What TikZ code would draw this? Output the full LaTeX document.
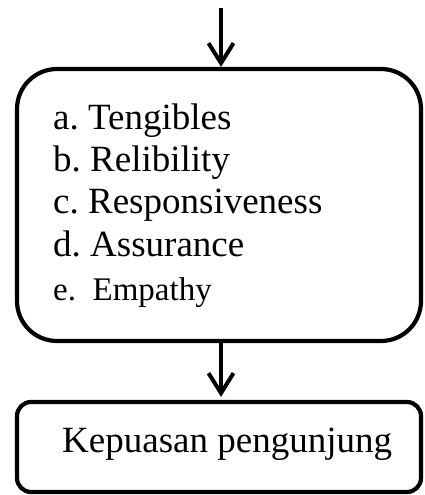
\documentclass[tikz,border=0pt]{standalone}
\usepackage{fontspec}
\setmainfont{Liberation Serif}
\usetikzlibrary{arrows.meta}
\frenchspacing
\begin{document}
\begin{tikzpicture}[x=1pt,y=-1pt,
  boxstyle/.style={draw=black,line width=4.2pt,inner sep=0pt},
  itemtext/.style={anchor=base west,inner sep=0pt,font=\fontsize{37}{42}\selectfont},
  conn/.style={line width=4pt,-{Straight Barb[length=20pt,width=25pt,line width=4pt]}}]
\useasboundingbox (0,0) rectangle (424,495);
\node[boxstyle,rounded corners=40pt,minimum width=404pt,minimum height=272pt] (box1) at (219,205) {};
\node[boxstyle,rounded corners=14pt,minimum width=404pt,minimum height=90pt] (box2) at (219,447) {};
\coordinate (start) at (221,8);
\node[itemtext] (ta) at (53,129) {a. Tengibles};
\node[itemtext] (tb) at (53,171) {b. Relibility};
\node[itemtext] (tc) at (53,213) {c. Responsiveness};
\node[itemtext] (td) at (53,256) {d. Assurance};
\node[itemtext,font=\fontsize{33}{40}\selectfont] (te) at (53,300) {e.~~Empathy};
\node[itemtext] (tk) at (62,452) {Kepuasan pengunjung};
\draw[conn] (start) -- (start |- box1.north);
\draw[conn,shorten >=3pt] (start |- box1.south) -- (start |- box2.north);
\end{tikzpicture}
\end{document}
